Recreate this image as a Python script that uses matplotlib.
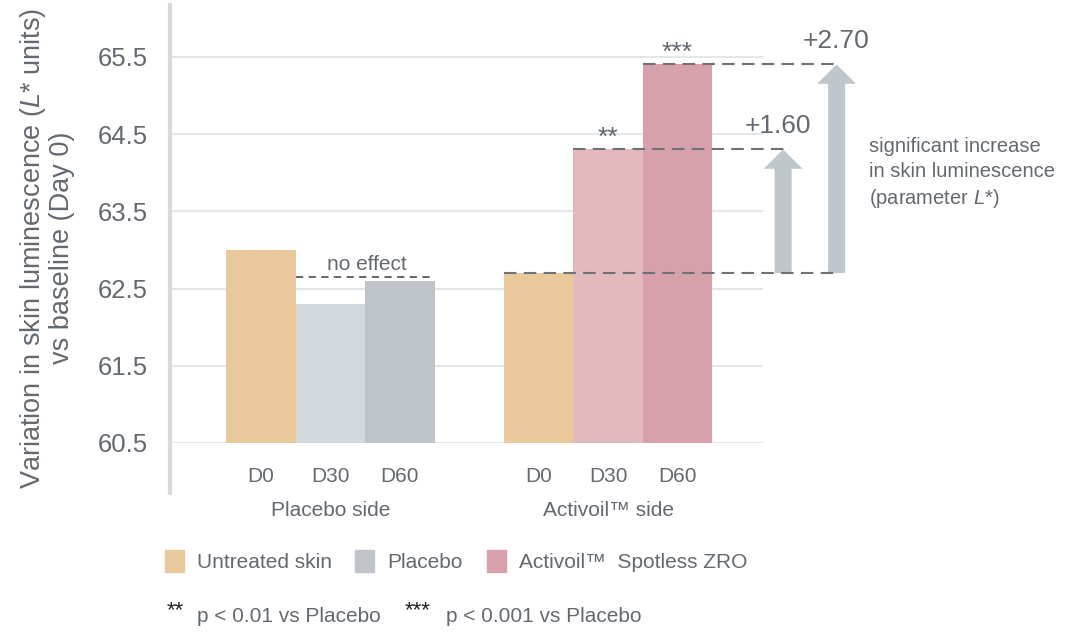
import numpy as np
import matplotlib
matplotlib.use("Agg")
import matplotlib.pyplot as plt
from matplotlib.patches import Rectangle

plt.rcParams['font.family'] = ['Liberation Sans', 'DejaVu Sans']
plt.rcParams['mathtext.fontset'] = 'custom'
plt.rcParams['mathtext.rm'] = 'Liberation Sans'
plt.rcParams['mathtext.it'] = 'Liberation Sans:italic'

# data
days = ["D0", "D30", "D60"]
placebo_vals = [63.0, 62.3, 62.6]
activoil_vals = [62.7, 64.3, 65.4]
groups = ["Placebo side", "Activoil\u2122 side"]
stars = ["", "**", "***"]
yticks = [60.5, 61.5, 62.5, 63.5, 64.5, 65.5]
legend_labels = ["Untreated skin", "Placebo", "Activoil\u2122  Spotless ZRO"]

c_untreated = "#e9c99c"
placebo_cols = [c_untreated, "#d3d8dc", "#bec4ca"]
activoil_cols = [c_untreated, "#e3b9be", "#d8a0aa"]
legend_cols = [c_untreated, "#bec4ca", "#d8a0aa"]
txt = "#636970"
dash_c = "#6e7276"
arrow_c = "#bfc6cc"
base = 60.5

fig = plt.figure(figsize=(10.87, 6.33), dpi=100)
ax = fig.add_axes([170/1087, (633-443)/633, (763-170)/1087, (443-5)/633])
ax.set_xlim(-1.31, 7.23)
ax.set_ylim(60.5, 66.17)

px = np.array([0, 1, 2])
ax_pos = np.array([4, 5, 6])
ax.bar(px, np.array(placebo_vals) - base, bottom=base, width=1.0, color=placebo_cols, zorder=2)
ax.bar(ax_pos, np.array(activoil_vals) - base, bottom=base, width=1.0, color=activoil_cols, zorder=2)

# grid
for y in yticks:
    ax.axhline(y, color="#e3e7ea", lw=1.5, zorder=1)
for s in ax.spines.values():
    s.set_visible(False)
ax.axvline(-1.31, ymin=-0.114, ymax=1, color="#d5dade", lw=3, clip_on=False)

ax.set_yticks(yticks)
ax.set_yticklabels([f"{v}" for v in yticks], fontsize=18.5, color=txt)
ax.set_xticks(list(px) + list(ax_pos))
ax.set_xticklabels(days + days, fontsize=15, color=txt)
ax.tick_params(axis='both', length=0)
ax.tick_params(axis='y', pad=16)
ax.tick_params(axis='x', pad=17)

ax.set_ylabel("Variation in skin luminescence ($\\it{L}$* units)\nvs baseline (Day 0)",
              fontsize=19.5, color=txt, linespacing=1.05)
ax.yaxis.set_label_coords(-0.16, 0.445)

for xc, g in zip([px.mean(), ax_pos.mean()], groups):
    ax.text(xc, -0.155, g, transform=ax.get_xaxis_transform(), ha='center', va='center',
            fontsize=15, color=txt)

# no effect
ax.plot([0.5, 2.5], [62.65, 62.65], ls=(0, (4, 3)), color="#555a60", lw=1.3, zorder=3)
ax.text(1.53, 62.81, "no effect", ha='center', va='center', fontsize=15, color=txt)

# activoil levels
dash = (0, (6, 3.5))
ax.plot([3.5, 8.34], [activoil_vals[0]] * 2, ls=dash, color=dash_c, lw=1.5, clip_on=False, zorder=3)
ax.plot([4.5, 7.55], [activoil_vals[1]] * 2, ls=dash, color=dash_c, lw=1.5, clip_on=False, zorder=3)
ax.plot([5.5, 8.27], [activoil_vals[2]] * 2, ls=dash, color=dash_c, lw=1.5, clip_on=False, zorder=3)

for xp, v, s in zip(ax_pos, activoil_vals, stars):
    if s:
        ax.text(xp, v + 0.15, s, ha='center', va='center', fontsize=19, color=txt)

# arrows
for xa, v in [(7.52, activoil_vals[1]), (8.29, activoil_vals[2])]:
    ax.arrow(xa, activoil_vals[0], 0, v - activoil_vals[0], width=0.245, head_width=0.56,
             head_length=0.25, length_includes_head=True, color=arrow_c, lw=0,
             clip_on=False, zorder=2)
ax.text(7.44, 64.6, f"+{activoil_vals[1]-activoil_vals[0]:.2f}", ha='center', va='center',
        fontsize=19, color=txt, clip_on=False)
ax.text(8.29, 65.71, f"+{activoil_vals[2]-activoil_vals[0]:.2f}", ha='center', va='center',
        fontsize=19, color=txt, clip_on=False)
ax.text(8.75, 63.99, "significant increase\nin skin luminescence\n(parameter $\\it{L}$*)",
        ha='left', va='center', fontsize=14.5, color=txt, linespacing=1.35, clip_on=False)

# legend
lx = [165, 355, 487]
for x0, c, lab in zip(lx, legend_cols, legend_labels):
    fig.patches.append(Rectangle((x0/1087, (633-572)/633), 19/1087, 22/633,
                                 transform=fig.transFigure, color=c))
    fig.text((x0 + 32)/1087, (633-563)/633, lab, ha='left', va='center', fontsize=15, color=txt)

fy = (633-617)/633
fig.text(167/1087, fy + 0.01, "**", ha='left', va='center', fontsize=16, color="#222222")
fig.text(197/1087, fy, "p < 0.01 vs Placebo", ha='left', va='center', fontsize=15, color=txt)
fig.text(405/1087, fy + 0.01, "***", ha='left', va='center', fontsize=16, color="#222222")
fig.text(446/1087, fy, "p < 0.001 vs Placebo", ha='left', va='center', fontsize=15, color=txt)

fig.savefig("out.png", dpi=100)
